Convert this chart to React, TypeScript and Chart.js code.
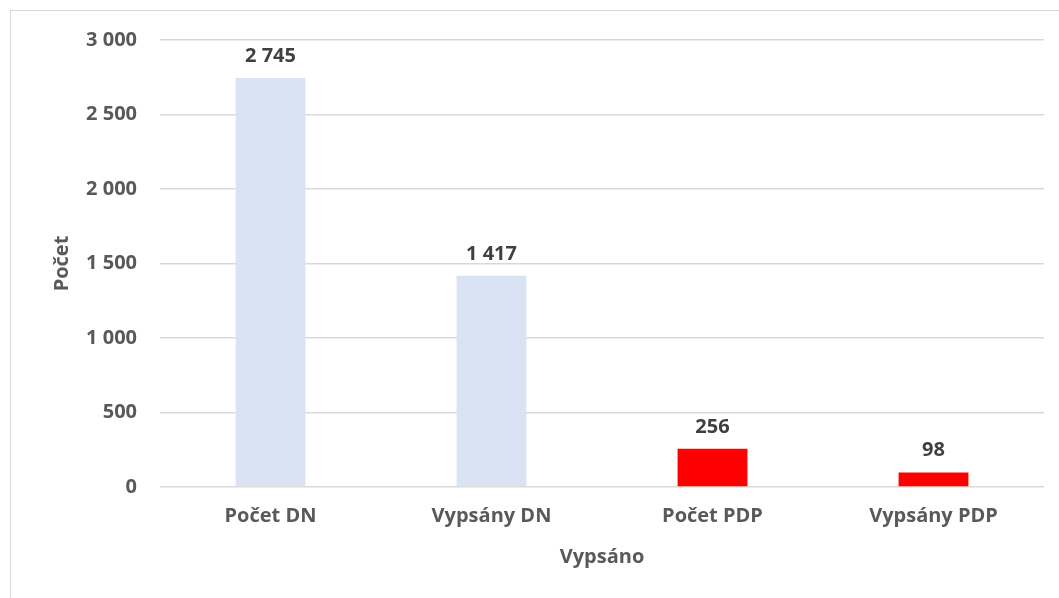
import React, { useEffect, useRef } from "react";
import { Chart, registerables } from "chart.js";

Chart.register(...registerables);

const categories: string[] = ["Počet DN", "Vypsány DN", "Počet PDP", "Vypsány PDP"];
const counts: number[] = [2745, 1417, 256, 98];
const barColors: string[] = ["#dae3f3", "#dae3f3", "#ff0000", "#ff0000"];
const yTitle = "Počet";
const xTitle = "Vypsáno";

const fmt = (v: number) => String(v).replace(/\B(?=(\d{3})+(?!\d))/g, " ");

const FONT = "'Open Sans', 'Noto Sans', sans-serif";
const SIZE = 20;

const labelPlugin = {
  id: "barLabels",
  afterDatasetsDraw(chart: any) {
    const ctx = chart.ctx;
    const meta = chart.getDatasetMeta(0);
    ctx.save();
    ctx.font = `bold ${SIZE}px ${FONT}`;
    ctx.fillStyle = "#404040";
    ctx.textAlign = "center";
    ctx.textBaseline = "alphabetic";
    meta.data.forEach((bar: any, i: number) => {
      ctx.fillText(fmt(counts[i]), bar.x, bar.y - 16);
    });
    ctx.restore();
  },
};

export default function App() {
  const ref = useRef<HTMLCanvasElement>(null);
  useEffect(() => {
    if (!ref.current) return;
    const chart = new Chart(ref.current, {
      type: "bar",
      data: {
        labels: categories,
        datasets: [
          {
            data: counts,
            backgroundColor: barColors,
            borderWidth: 0,
            categoryPercentage: 1,
            barPercentage: 0.316,
          },
        ],
      },
      options: {
        animation: false,
        responsive: false,
        maintainAspectRatio: false,
        layout: { padding: { top: 40, right: 15, bottom: 0, left: 0 } },
        plugins: {
          legend: { display: false },
          tooltip: { enabled: false },
        },
        scales: {
          x: {
            grid: { display: false, drawTicks: false },
            border: { display: false },
            ticks: {
              color: "#595959",
              font: { family: FONT, size: SIZE, weight: "bold" },
              padding: 17,
              maxRotation: 0,
            },
            title: {
              display: true,
              text: xTitle,
              color: "#595959",
              font: { family: FONT, size: SIZE, weight: "bold" },
              padding: { top: 0, bottom: 29 },
            },
            afterFit(scale: any) {
              scale.height = 111;
            },
          },
          y: {
            min: 0,
            max: 3000,
            grid: { color: "#d9d9d9", lineWidth: 1.5, drawTicks: false },
            border: { display: false },
            ticks: {
              stepSize: 500,
              color: "#595959",
              font: { family: FONT, size: SIZE, weight: "bold" },
              padding: 23,
              callback: (v: any) => fmt(Number(v)),
            },
            title: {
              display: true,
              text: yTitle,
              color: "#595959",
              font: { family: FONT, size: SIZE, weight: "bold" },
              padding: { top: 50, bottom: 0 },
            },
            afterFit(scale: any) {
              scale.width = 160;
            },
          },
        },
      },
      plugins: [labelPlugin],
    });
    return () => chart.destroy();
  }, []);

  return (
    <div
      style={{
        position: "fixed",
        left: 0,
        top: 0,
        width: 1059,
        height: 598,
        overflow: "hidden",
        background: "#ffffff",
      }}
    >
      <div
        style={{
          position: "absolute",
          left: 10,
          top: 10,
          width: 1200,
          height: 800,
          border: "1.5px solid #d9d9d9",
        }}
      />
      <canvas
        ref={ref}
        width={1059}
        height={598}
        style={{ position: "absolute", left: 0, top: 0, width: 1059, height: 598 }}
      />
    </div>
  );
}
